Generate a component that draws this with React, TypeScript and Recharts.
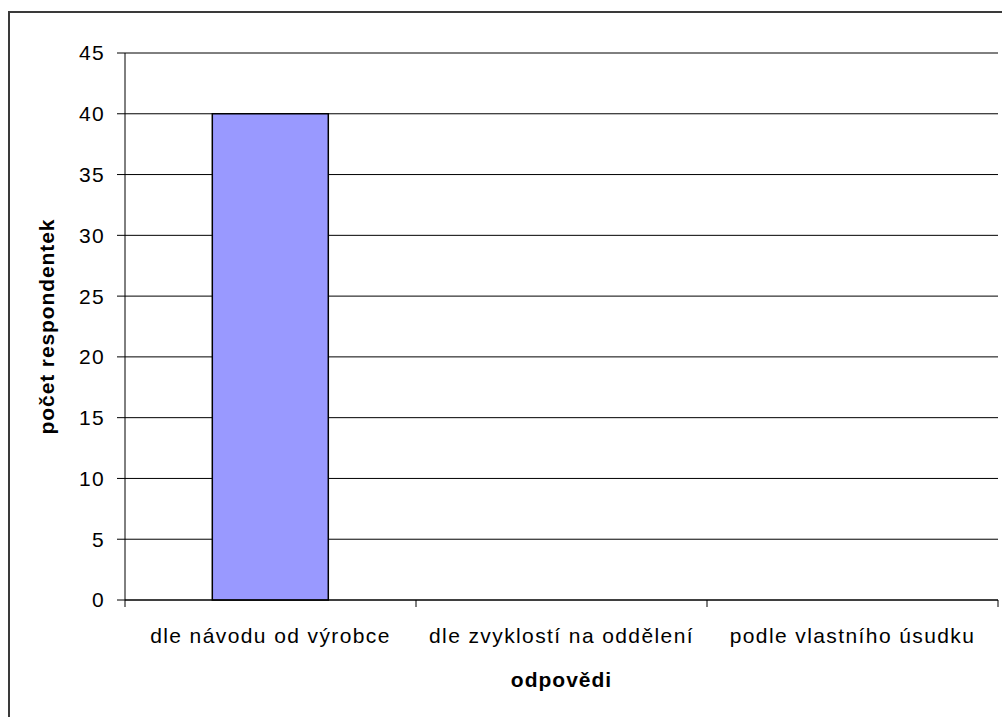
import React from "react";
import {
  Bar,
  BarChart,
  CartesianGrid,
  Label,
  XAxis,
  YAxis,
} from "recharts";

const categories = [
  "dle návodu od výrobce",
  "dle zvyklostí na oddělení",
  "podle vlastního úsudku",
];
const counts = [40, 0, 0];
const yTicks = [0, 5, 10, 15, 20, 25, 30, 35, 40, 45];
const categoryEdges = [0, 1, 2, 3];

// pos = category index, used by the helper axis that draws boundary ticks
const data = categories.map((name, i) => ({ name, value: counts[i], pos: i }));

const font = '"Liberation Sans", Arial, sans-serif';

function YTitle(props: any) {
  const vb = props.viewBox;
  const x = vb.x + 47;
  const y = vb.y + vb.height / 2;
  return (
    <text
      x={x}
      y={y}
      transform={`rotate(-90, ${x}, ${y})`}
      textAnchor="middle"
      dy="0.355em"
      fontFamily={font}
      fontSize={21}
      fontWeight="bold"
      letterSpacing={0.9}
      fill="#000"
    >
      počet respondentek
    </text>
  );
}

// edge axis only shows tick marks between categories
const NoLabel = () => <g />;

export default function App() {
  return (
    <div
      style={{
        position: "fixed",
        left: 0,
        top: 0,
        width: 1002,
        height: 717,
        overflow: "hidden",
        background: "#fff",
      }}
    >
      <div
        style={{
          position: "absolute",
          left: 8,
          top: 11,
          width: 1100,
          height: 800,
          border: "2px solid #3a3a3a",
        }}
      />
      <div style={{ position: "absolute", left: 0, top: 0 }}>
        <BarChart
          width={1002}
          height={717}
          data={data}
          margin={{ top: 53, right: 4, left: 0, bottom: 0 }}
          barCategoryGap="30%"
        >
          <CartesianGrid
            xAxisId="b_cat"
            vertical={false}
            stroke="#000"
            strokeWidth={1}
          />
          <XAxis
            xAxisId="a_edges"
            dataKey="pos"
            type="number"
            domain={[0, categories.length]}
            allowDataOverflow
            ticks={categoryEdges}
            interval={0}
            tick={NoLabel}
            tickSize={7}
            height={6}
            axisLine={{ stroke: "#000" }}
            tickLine={{ stroke: "#000", strokeWidth: 1 }}
          />
          <XAxis
            xAxisId="b_cat"
            dataKey="name"
            height={111}
            axisLine={false}
            tickLine={false}
            tickSize={0}
            tickMargin={22}
            interval={0}
            tick={{
              fontSize: 21,
              fill: "#000",
              fontFamily: font,
              letterSpacing: 1.4,
            }}
          >
            <Label
              value="odpovědi"
              position="insideBottom"
              offset={30}
              style={{
                fontSize: 21,
                fontWeight: "bold",
                fill: "#000",
                fontFamily: font,
                letterSpacing: 1,
              }}
            />
          </XAxis>
          <YAxis
            width={125}
            domain={[0, 45]}
            ticks={yTicks}
            interval={0}
            tickSize={8}
            tickMargin={12}
            axisLine={{ stroke: "#000" }}
            tickLine={{ stroke: "#000" }}
            tick={{
              fontSize: 21,
              fill: "#000",
              fontFamily: font,
              letterSpacing: 1.3,
            }}
          >
            <Label content={YTitle} />
          </YAxis>
          <Bar
            xAxisId="b_cat"
            dataKey="value"
            fill="#9999FF"
            stroke="#000"
            strokeWidth={1.5}
            isAnimationActive={false}
          />
        </BarChart>
      </div>
    </div>
  );
}
